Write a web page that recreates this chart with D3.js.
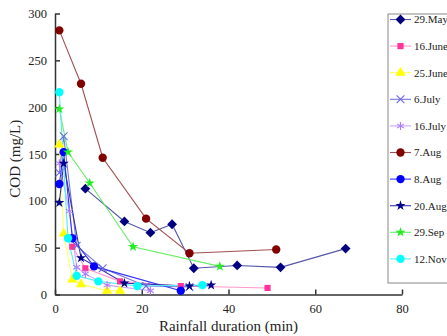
<!DOCTYPE html>
<html>
<head>
<meta charset="utf-8">
<script src="https://cdn.jsdelivr.net/npm/d3@7"></script>
<style>
  body { margin: 0; background: #fff; }
  svg text { font-family: "Liberation Serif", "Times New Roman", serif; fill: #222; }
</style>
</head>
<body>
<svg id="chart" width="447" height="336"></svg>
<script>
// series names, in legend order
const seriesNames = ['29.May', '16.June', '25.June', '6.July', '16.July', '7.Aug', '8.Aug', '20.Aug', '29.Sep', '12.Nov'];

// [minute, COD] pairs
const may29 = [[7, 113], [16, 78], [22, 66], [27, 75], [32, 28], [42, 31], [52, 29], [67, 49]];
const june16 = [[4, 51], [7, 28], [15, 14], [29, 9], [49, 7]];
const june25 = [[1, 160], [2, 65], [4, 16], [6, 11], [12, 4], [15, 4]];
const july6 = [[1, 130], [2, 169], [5, 52], [11, 28], [21, 9], [31, 8]];
const july16 = [[1, 140], [3.3, 89], [5, 29], [7, 22], [12, 10], [22, 4]];
const aug7 = [[1, 282], [6, 225], [11, 146], [21, 81], [31, 44], [51, 48]];
const aug8 = [[1, 118], [2, 152], [4, 60], [9, 30], [29, 4]];
const aug20 = [[1, 98], [2, 140], [6, 39], [16, 12], [31, 9], [36, 10]];
const sep29 = [[1, 198], [3, 152], [8, 119], [18, 51], [38, 30]];
const nov12 = [[1, 216], [3, 60], [5, 20], [10, 14], [19, 9], [34, 10]];

const xTicks = [0, 20, 40, 60, 80];
const yTicks = [0, 50, 100, 150, 200, 250, 300];

const allSeries = [may29, june16, june25, july6, july16, aug7, aug8, aug20, sep29, nov12];
const colors = ['#000080', '#ff3399', '#ffff00', '#6a6ae0', '#b07cff', '#800000', '#0000ff', '#00008b', '#22ee22', '#00ffff'];
const lineColors = ['#5555aa', '#ff99cc', '#ffff66', '#7777dd', '#c9a6ff', '#a05050', '#3333ff', '#3333aa', '#66ee66', '#55eeee'];
const shapes = [d3.symbolSquare, d3.symbolSquare, d3.symbolTriangle, d3.symbolTimes, d3.symbolAsterisk,
  d3.symbolCircle, d3.symbolCircle, d3.symbolStar, d3.symbolStar, d3.symbolCircle];
const sizes = [48, 38, 45, 40, 45, 55, 55, 32, 32, 55];
const angles = [45, 0, 0, 0, 0, 0, 0, 0, 0, 0];
const stroked = [false, false, false, true, true, false, false, false, false, false];

const svg = d3.select('#chart');
const margin = { left: 55, top: 13.5, right: 402, bottom: 294.5 };

const x = d3.scaleLinear().domain([0, 80]).range([margin.left, margin.right]);
const y = d3.scaleLinear().domain([0, 300]).range([margin.bottom, margin.top]);

// axes, ticks pointing inward
const xAxis = svg.append('g')
  .attr('transform', `translate(0,${margin.bottom})`)
  .call(d3.axisBottom(x).tickValues(xTicks).tickSizeInner(-5).tickSizeOuter(0).tickPadding(10));
const yAxis = svg.append('g')
  .attr('transform', `translate(${margin.left},0)`)
  .call(d3.axisLeft(y).tickValues(yTicks).tickSizeInner(-5).tickSizeOuter(0).tickPadding(8));
[xAxis, yAxis].forEach(a => {
  a.select('.domain').attr('stroke', '#333').attr('stroke-width', 1.5);
  a.selectAll('.tick line').attr('stroke', '#333').attr('stroke-width', 1.5);
  a.selectAll('.tick text').style('font-size', '12.5px').attr('fill', '#333');
});

svg.append('text')
  .attr('x', x(40)).attr('y', 331)
  .attr('text-anchor', 'middle')
  .style('font-size', '15px')
  .text('Rainfall duration (min)');
svg.append('text')
  .attr('transform', `translate(20,${y(145)}) rotate(-90)`)
  .attr('text-anchor', 'middle')
  .style('font-size', '15px')
  .text('COD (mg/L)');

const line = d3.line().x(d => x(d[0])).y(d => y(d[1]));

allSeries.forEach((data, i) => {
  svg.append('path')
    .datum(data)
    .attr('d', line)
    .attr('fill', 'none')
    .attr('stroke', lineColors[i])
    .attr('stroke-width', 1.1);
});

function drawMarker(g, i) {
  g.attr('d', d3.symbol().type(shapes[i]).size(sizes[i]))
    .attr('fill', stroked[i] ? 'none' : colors[i])
    .attr('stroke', stroked[i] ? colors[i] : 'none')
    .attr('stroke-width', 1.1);
}

allSeries.forEach((data, i) => {
  svg.append('g').selectAll('path')
    .data(data)
    .join('path')
    .attr('transform', d => `translate(${x(d[0])},${y(d[1])}) rotate(${angles[i]})`)
    .call(drawMarker, i);
});

// legend
const legend = svg.append('g').attr('transform', 'translate(388,14)');
legend.append('rect')
  .attr('width', 70).attr('height', 269)
  .attr('fill', '#fff').attr('stroke', '#888').attr('stroke-width', 1);
const rowStep = 26.6;
seriesNames.forEach((name, i) => {
  const row = legend.append('g').attr('transform', `translate(0,${5.5 + i * rowStep})`);
  row.append('line').attr('x1', 2).attr('x2', 23).attr('stroke', lineColors[i]).attr('stroke-width', 1.1);
  row.append('path').attr('transform', `translate(12.5,0) rotate(${angles[i]})`).call(drawMarker, i);
  row.append('text').attr('x', 26).attr('dy', '0.35em').style('font-size', '11px').text(name);
});
</script>
</body>
</html>
